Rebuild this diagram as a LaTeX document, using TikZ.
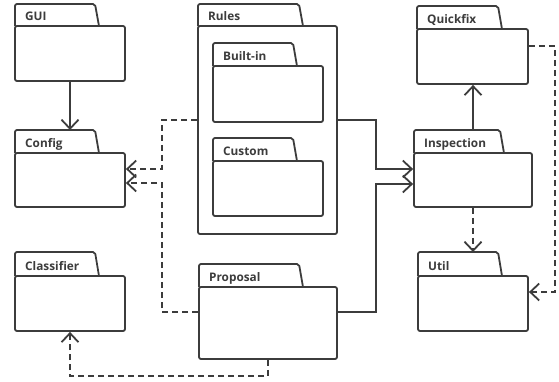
\documentclass[tikz,border=0pt]{standalone}
\usepackage{fontspec}
\setmainfont{Open Sans}
\usetikzlibrary{arrows.meta}
\definecolor{ink}{HTML}{3C3C3C}
\tikzset{
  pk/.style={draw=ink, line width=1.8pt, line join=round},
  body/.style={pk, rounded corners=2pt, inner sep=0pt, fill=white},
  lbl/.style={anchor=base west, text=ink, font=\bfseries\fontsize{11.8}{14}\selectfont, inner sep=0pt},
  use/.style={draw=ink, line width=1.8pt, -{Straight Barb[length=9pt,width=17pt,line width=1.8pt]}},
  dep/.style={use, dash pattern=on 6pt off 4pt},
}
% \pkg{name}{x1}{tabtop}{tabright}{bodytop}{x2}{bottom}{label}
\newcommand\pkg[8]{%
  \draw[pk] (#2,#5) [rounded corners=2pt] -- (#2,#3) -- (#4,#3) [sharp corners] -- ({#4+4},#5);
  \pgfmathsetmacro\pkw{#6-#2}\pgfmathsetmacro\pkh{#7-#5}%
  \node[body, minimum width=\pkw pt, minimum height=\pkh pt] (#1) at ({(#2+#6)/2},{(#5+#7)/2}) {};
  \node[lbl] (#1-label) at ({#2+10},{#5-5.5}) {#8};
}
\begin{document}
\begin{tikzpicture}[x=1pt,y=-1pt]
\useasboundingbox (0,0) rectangle (559,381);
\pkg{gui}{15}{4}{95}{26}{125}{81}{GUI}
\pkg{config}{15}{130}{95}{153}{125}{207}{Config}
\pkg{classifier}{15}{252}{95}{276}{125}{331}{Classifier}
\pkg{rules}{198}{4}{299}{26}{337}{234}{Rules}
\pkg{builtin}{213}{43}{293}{66}{323}{122}{Built-in}
\pkg{custom}{213}{138}{293}{161}{323}{216}{Custom}
\pkg{proposal}{199}{264}{299}{287}{337}{359}{Proposal}
\pkg{quickfix}{417}{6}{498}{29}{528}{84}{Quickfix}
\pkg{inspection}{414}{130}{500}{153}{532}{207}{Inspection}
\pkg{util}{418}{252}{498}{276}{528}{331}{Util}

\coordinate (configtab) at (70,130);
\coordinate (utiltab) at (473,252);
\coordinate (insptab) at (473,130);

\draw[use] (gui.south) -- (configtab);
\draw[dep] (rules.west |- 0,120) -- (162,120) -- (162,169) -- (config.east |- 0,169);
\draw[dep] (proposal.west |- 0,312) -- (162,312) -- (162,183) -- (config.east |- 0,183);
\draw[use] (rules.east |- 0,120) -- (376,120) -- (376,169) -- (inspection.west |- 0,169);
\draw[use] (proposal.east |- 0,312) -- (376,312) -- (376,184) -- (inspection.west |- 0,184);
\draw[use] (insptab) -- (quickfix.south -| insptab);
\draw[dep] (inspection.south -| utiltab) -- (utiltab);
\draw[dep] (quickfix.east |- 0,46) -- (555,46) -- (555,292) -- (util.east |- 0,292);
\draw[dep] (proposal.south -| 268,0) -- (268,376) -- (70,376) -- (classifier.south);
\end{tikzpicture}
\end{document}
